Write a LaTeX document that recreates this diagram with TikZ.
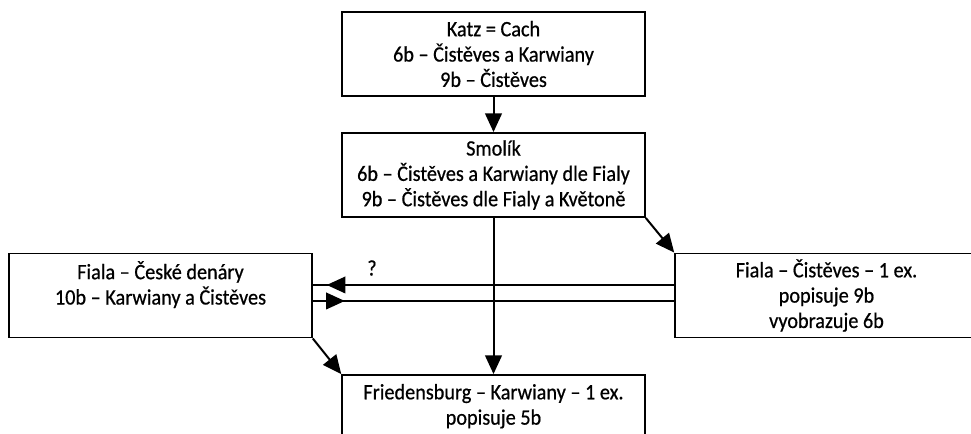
\documentclass[tikz,border=0pt]{standalone}
\usepackage{fontspec}
\setmainfont{Carlito}[FakeStretch=0.92,FakeBold=0.6]
\usetikzlibrary{arrows.meta,decorations.markings}

\begin{document}
\begin{tikzpicture}[x=0.75pt,y=-0.75pt,
    box/.style={draw, line width=1.4pt, minimum width=227pt, minimum height=63pt,
        inner sep=0pt, align=center, font=\fontsize{16.5}{19}\selectfont},
    arr/.style={line width=1.5pt, -{Triangle[length=14pt,width=12.5pt]}},
    link/.style={line width=1.3pt, postaction={decorate}},
    tipat/.style={decoration={markings, mark=at position #1 with {\arrow{Triangle[length=14pt,width=12.5pt]}}}}]
    % Frame (the picture is cut at the right and bottom edges)
    \clip (0,0) rectangle (971,433);

    % Boxes
    \node[box] (katz) at (493.5,54) {Katz = Cach\\6b – Čistěves a Karwiany\\9b – Čistěves};
    \node[box] (smolik) at (493.5,175) {Smolík\\6b – Čistěves a Karwiany dle Fialy\\9b – Čistěves dle Fialy a Květoně};
    \node[box] (fialaCD) at (160.5,295.5) {Fiala – České denáry\\10b – Karwiany a Čistěves\\~};
    \node[box] (fialaC) at (826.5,295.5) {Fiala – Čistěves – 1 ex.\\popisuje 9b\\vyobrazuje 6b};
    \node[box] (fried) at (493.5,417) {Friedensburg – Karwiany – 1 ex.\\popisuje 5b\\~};

    % Arrows
    \draw[arr] (katz) -- (smolik);
    \draw[arr] (smolik) -- (fried);
    \draw[arr] (smolik.south east) -- (fialaC.north west);
    \draw[arr] (fialaCD.south east) -- (fried.north west);

    % Double link between the two Fiala boxes
    \draw[link, tipat=-10.5pt] ([yshift=7.9pt]fialaC.west) -- ([yshift=7.9pt]fialaCD.east);
    \draw[link, tipat=24pt] ([yshift=-4.1pt]fialaCD.east) -- ([yshift=-4.1pt]fialaC.west);
    \node[font=\fontsize{16.5}{19}\selectfont] (q) at (372,268) {?};
\end{tikzpicture}
\end{document}
